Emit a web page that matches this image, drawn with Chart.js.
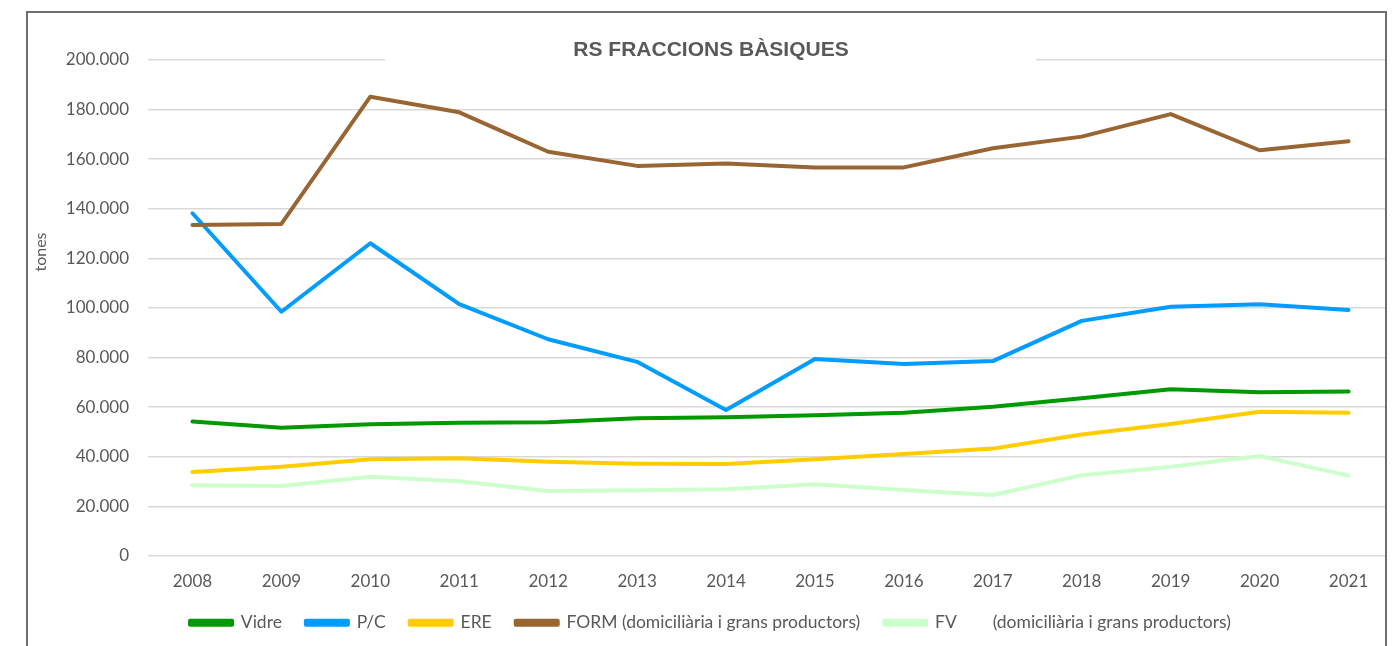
<!DOCTYPE html>
<html>
  <head>
    <meta charset="utf-8">
    <title>RS fraccions bàsiques</title>
    <style>
      html, body { margin: 0; background: #fff; overflow: hidden; }
      #marc {
        position: absolute; left: 26px; top: 11px;
        width: 1357px; height: 640px;
        border: 2px solid #6f6f6f; overflow: hidden;
      }
      #grafic { display: block; }
    </style>
  </head>
  <body>
    <div id="marc"><canvas id="grafic" width="1400" height="633"></canvas></div>

    <script src="https://cdn.jsdelivr.net/npm/chart.js@4"></script>
    <script>
      // dades llegides del gràfic (tones)
      const anys = ["2008", "2009", "2010", "2011", "2012", "2013", "2014", "2015", "2016", "2017", "2018", "2019", "2020", "2021"];
      const vidre = [54200, 51700, 53100, 53700, 53900, 55500, 55900, 56800, 57800, 60200, 63600, 67200, 66000, 66300];
      const pc = [138200, 98500, 126100, 101600, 87400, 78300, 58900, 79400, 77400, 78600, 94800, 100500, 101500, 99200];
      const ere = [33900, 36000, 39000, 39400, 38000, 37200, 37100, 39000, 41100, 43300, 49000, 53200, 58200, 57800];
      const form = [133500, 133900, 185200, 178900, 163000, 157300, 158300, 156700, 156700, 164400, 169100, 178200, 163600, 167200];
      const fv = [28500, 28200, 32000, 30100, 26200, 26500, 26900, 28900, 26600, 24600, 32600, 36000, 40300, 32400];

      const titol = "RS FRACCIONS BÀSIQUES";
      const titolEix = "tones";
      const gris = "#595959";

      function punts(n) {
        return String(n).replace(/\B(?=(\d{3})+(?!\d))/g, ".");
      }

      function serie(label, data, color, ordre) {
        return {
          label: label,
          data: data,
          borderColor: color,
          backgroundColor: color,
          borderWidth: 4,
          pointRadius: 0,
          pointHoverRadius: 0,
          tension: 0,
          fill: false,
          borderCapStyle: "round",
          borderJoinStyle: "round",
          order: ordre,
        };
      }

      // títol i nom de l'eix dibuixats a mà, com a l'original (el títol talla la línia de 200.000)
      const textosPlugin = {
        id: "textos",
        beforeDatasetsDraw(chart) {
          const ctx = chart.ctx;
          ctx.save();
          ctx.fillStyle = "#ffffff";
          ctx.fillRect(357, chart.chartArea.top - 3, 651, 6);
          ctx.fillStyle = gris;
          ctx.font = "bold 21px 'Liberation Sans', Arial, sans-serif";
          ctx.textAlign = "center";
          ctx.textBaseline = "middle";
          ctx.fillText(titol, 683, 37);
          ctx.translate(13, 239);
          ctx.rotate(-Math.PI / 2);
          ctx.font = "16px Lato, sans-serif";
          ctx.fillText(titolEix, 0, 0);
          ctx.restore();
        },
      };

      const ctx = document.getElementById("grafic").getContext("2d");
      const grafic = new Chart(ctx, {
        type: "line",
        data: {
          labels: anys,
          datasets: [
            serie("Vidre", vidre, "#009900", 5),
            serie("P/C", pc, "#009cff", 4),
            serie("ERE", ere, "#ffcc00", 3),
            serie("FORM (domiciliària i grans productors)", form, "#996633", 2),
            serie("FV        (domiciliària i grans productors)", fv, "#ccffcc", 1),
          ],
        },
        options: {
          responsive: false,
          animation: false,
          layout: { padding: { top: 47, right: 35, bottom: 4.5, left: 0 } },
          scales: {
            x: {
              offset: true,
              grid: { display: false, drawTicks: false },
              border: { display: false },
              ticks: { color: gris, font: { family: "Lato", size: 17 }, padding: 15.5, maxRotation: 0 },
              afterFit(scale) { scale.height = 34; },
            },
            y: {
              min: 0,
              max: 200000,
              grid: { color: "#d9d9d9", lineWidth: 1.5, drawTicks: false },
              border: { display: false },
              ticks: {
                stepSize: 20000,
                color: gris,
                font: { family: "Lato", size: 17 },
                padding: 19,
                callback: (v) => punts(v),
              },
              afterFit(scale) { scale.width = 120; },
            },
          },
          plugins: {
            title: { display: false },
            tooltip: { enabled: false },
            legend: {
              position: "bottom",
              labels: {
                boxWidth: 42,
                boxHeight: 4,
                padding: 24,
                color: gris,
                font: { family: "Lato", size: 17.5 },
                sort: (a, b) => a.datasetIndex - b.datasetIndex,
              },
            },
          },
        },
        plugins: [textosPlugin],
      });
    </script>
  </body>
</html>
